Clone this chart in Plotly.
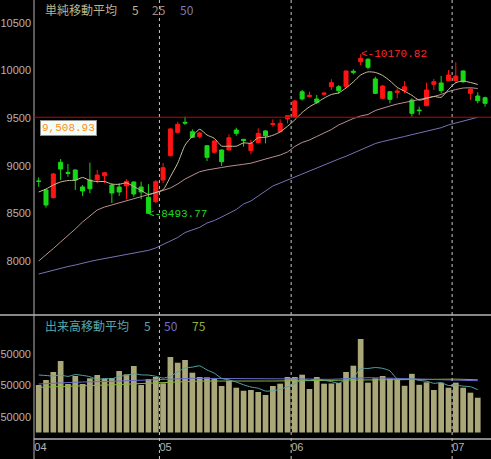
import pandas as pd
import plotly.graph_objects as go

# ---------------- data ----------------
dates = [
    "2009-04-07", "2009-04-08", "2009-04-09", "2009-04-10", "2009-04-13", "2009-04-14",
    "2009-04-15", "2009-04-16", "2009-04-17", "2009-04-20", "2009-04-21", "2009-04-22",
    "2009-04-23", "2009-04-24", "2009-04-27", "2009-04-28", "2009-04-30",
    "2009-05-01", "2009-05-07", "2009-05-08", "2009-05-11", "2009-05-12", "2009-05-13",
    "2009-05-14", "2009-05-15", "2009-05-18", "2009-05-19", "2009-05-20", "2009-05-21",
    "2009-05-22", "2009-05-25", "2009-05-26", "2009-05-27", "2009-05-28", "2009-05-29",
    "2009-06-01", "2009-06-02", "2009-06-03", "2009-06-04", "2009-06-05", "2009-06-08",
    "2009-06-09", "2009-06-10", "2009-06-11", "2009-06-12", "2009-06-15", "2009-06-16",
    "2009-06-17", "2009-06-18", "2009-06-19", "2009-06-22", "2009-06-23", "2009-06-24",
    "2009-06-25", "2009-06-26", "2009-06-29", "2009-06-30",
    "2009-07-01", "2009-07-02", "2009-07-03", "2009-07-06", "2009-07-07",
]

opens = [8840, 8745, 8664, 9036, 8930, 8955, 8777, 8850, 8850, 8895, 8797, 8776, 8787, 8829,
         8776, 8668, 8622,
         8850, 9105, 9351, 9456, 9357, 9305, 9210, 9141, 9165, 9165, 9375, 9277, 9158, 9242,
         9365, 9432, 9357, 9491,
         9512, 9777, 9725, 9701, 9750, 9830, 9830, 9830, 9992, 10092, 10118, 9911, 9708, 9777,
         9770, 9788, 9690, 9585, 9630, 9855, 9869, 9893,
         9893, 9995, 9760, 9732, 9714]
highs = [8878, 8755, 8923, 9070, 9018, 8960, 8797, 9032, 8955, 8934, 8813, 8815, 8857, 8832,
         8832, 8805, 8850,
         9028, 9396, 9462, 9515, 9382, 9357, 9215, 9270, 9170, 9330, 9399, 9280, 9270, 9393,
         9375, 9487, 9487, 9528,
         9690, 9795, 9777, 9743, 9777, 9908, 9848, 10000, 10013, 10170.82, 10128, 9935, 9848,
         9785, 9813, 9890, 9708, 9620, 9872, 9911, 9942, 10005,
         10086, 10000, 9813, 9771, 9725]
lows = [8779, 8559, 8656, 8850, 8884, 8745, 8682, 8710, 8815, 8818, 8608, 8682, 8647, 8674,
        8647, 8493.77, 8608,
        8818, 9097, 9340, 9428, 9291, 9288, 9049, 9130, 8997, 9160, 9315, 9200, 9120, 9235,
        9235, 9410, 9350, 9445,
        9501, 9685, 9722, 9648, 9735, 9795, 9753, 9813, 9960, 10058, 10013, 9753, 9700, 9655,
        9708, 9760, 9515, 9533, 9625, 9795, 9760, 9888,
        9866, 9870, 9690, 9655, 9620]
closes = [8835, 8587, 8913, 8965, 8920, 8850, 8734, 8758, 8902, 8926, 8713, 8724, 8836, 8703,
          8724, 8500, 8832,
          8979, 9386, 9435, 9448, 9298, 9344, 9088, 9259, 9042, 9294, 9340, 9265, 9235, 9340,
          9315, 9442, 9445, 9525,
          9680, 9701, 9740, 9666, 9762, 9872, 9788, 9995, 9982, 10128, 10034, 9760, 9837, 9697,
          9785, 9830, 9550, 9578, 9795, 9882, 9788, 9953,
          9942, 9882, 9806, 9683, 9655]

volumes = [151500, 167500, 193000, 228100, 154700, 180200, 154700, 172900, 183400, 170700,
           173800, 196200, 185600, 212100, 151500, 170700, 177000,
           156900, 240800, 222600, 231300, 190800, 177000, 176100, 171600, 148300, 165200,
           142900, 133300, 135600, 129200, 119600, 148300, 155700, 177000,
           177000, 184400, 138800, 177000, 155700, 156300, 157900, 193000, 213100, 298200,
           158900, 172900, 180200, 172200, 169700, 149000, 187200, 152200, 160100, 135600,
           158900, 142900,
           158900, 142900, 127000, 111000, None]

# moving-average values read where the window reaches before the chart
ma5_head = [8724, 8755, 8797, 8829]
ma25 = [7999, 8062, 8130, 8199, 8262, 8335, 8409, 8472, 8535, 8566,
        8587, 8613, 8634, 8658, 8677, 8698, 8713, 8740, 8766, 8808,
        8860, 8902, 8937, 8955, 8971, 8981, 8994, 9002, 9015, 9026,
        9044, 9070, 9091, 9112, 9144, 9202, 9244, 9270, 9307, 9344,
        9380, 9428, 9464, 9496, 9522, 9538, 9580, 9606, 9627, 9648,
        9664, 9674, 9690, 9711, 9727, 9748, 9779, 9800, 9816, 9819, 9811, None]
ma50 = [7862, 7883, 7899, 7920, 7941, 7957, 7978, 7994, 8010, 8025,
        8041, 8055, 8067, 8081, 8097, 8111, 8136, 8172, 8204, 8246,
        8298, 8325, 8353, 8398, 8424, 8461, 8498, 8540, 8598, 8629,
        8682, 8734, 8787, 8818, 8850, 8881, 8913, 8950, 8981, 9013,
        9042, 9070, 9099, 9133, 9165, 9202, 9233, 9254, 9270, 9288,
        9307, 9326, 9344, 9361, 9380, 9399, 9428, 9449, 9470, 9491, 9508.93, None]

vol_ma5_head = [183400, 181800, 180200, 183400]
vol_ma50 = [154700, 156300, 157900, 158900, 159500,
            160400, 161100, 161100, 162000, 162700,
            163300, 164300, 164900, 165900, 166500, 167100, 167500,
            168700, 169700, 170700, 171900, 172900, 172900, 172900,
            172900, 172900, 172900, 172900, 172900, 172900, 172900, 172900, 172900, 172900, 172900,
            172200, 171300, 170700, 169700, 169100, 169700, 170700, 172200, 173800,
            174800, 174800, 174500, 173800, 173800, 173200, 172900, 172200, 171600, 171000,
            170700, 170000, 169700,
            168700, 167500, 166500, 165200, None]
vol_ma75 = [144200, 144800, 145100, 145800, 146400, 147000, 147700, 148300, 149300, 150200,
            151500, 152800, 154100, 155300, 156600, 157900, 159200,
            160100, 161100, 162000, 162700, 163300, 164000, 164300,
            164300, 164300, 164300, 164300, 164300, 164300, 164300, 164300, 164300, 164300, 164300,
            164600, 165000, 165300, 165600, 166000, 166300, 166600, 167000, 167300, 167600,
            168000, 168300, 168700, 169000, 169400, 169700, 170000, 170300, 170700, 170700,
            170700, 170700,
            170300, 169700, 169000, 168000, None]

price_ticks = [8000, 8500, 9000, 9500, 10000, 10500]
volume_ticks = [50000, 150000, 250000]
ref_level = 9508.93
high_mark = 10170.82
low_mark = 8493.77

price_legend = ["単純移動平均", "5", "25", "50"]
volume_legend = ["出来高移動平均", "5", "50", "75"]

# ---------------- derived series ----------------
n = len(dates)
x = list(range(n))


def moving_average(values, head, window=5):
    s = pd.Series([float("nan") if v is None else v for v in values]).rolling(window).mean()
    out = [None if pd.isna(v) else round(float(v), 2) for v in s]
    for i, h in enumerate(head):
        out[i] = h
    return out


ma5 = moving_average(closes, ma5_head)
ma5[-1] = None  # the averages stop at the previous session in the reference
vol_ma5 = moving_average(volumes, vol_ma5_head)

# ---------------- layout constants ----------------
W, H = 491, 459
ML, MB = 34, 20
plot_w = W - ML
plot_h = H - MB
split_px = 315
split = (plot_h - split_px) / plot_h
x_range = [-0.64, 61.81]
bottom_ext = -MB / plot_h

C_MA5 = "#c8c098"
C_MA25 = "#b89090"
C_MA50 = "#7474b4"
C_VMA5 = "#58a4a4"
C_VMA50 = "#6a6ad0"
C_VMA75 = "#86b43a"
C_UP = "#ff1414"
C_DOWN = "#18d818"
C_AX = "#b4b4b4"

fig = go.Figure()

fig.add_trace(go.Candlestick(
    x=x, open=opens, high=highs, low=lows, close=closes,
    increasing=dict(line=dict(color=C_UP, width=1), fillcolor=C_UP),
    decreasing=dict(line=dict(color=C_DOWN, width=1), fillcolor=C_DOWN),
    whiskerwidth=0, xaxis="x", yaxis="y", showlegend=False, hoverinfo="skip",
))
for vals, col, shape in [(ma50, C_MA50, "linear"), (ma25, C_MA25, "linear"), (ma5, C_MA5, "spline")]:
    fig.add_trace(go.Scatter(x=x, y=vals, mode="lines",
                             line=dict(color=col, width=1, shape=shape, smoothing=0.6),
                             xaxis="x", yaxis="y", showlegend=False, hoverinfo="skip"))

fig.add_trace(go.Bar(x=x, y=volumes, marker=dict(color="#aaa878", line=dict(width=0)),
                     xaxis="x2", yaxis="y2", showlegend=False, hoverinfo="skip"))
for vals, col, shape in [(vol_ma75, C_VMA75, "linear"), (vol_ma50, C_VMA50, "linear"),
                         (vol_ma5, C_VMA5, "spline")]:
    fig.add_trace(go.Scatter(x=x, y=vals, mode="lines",
                             line=dict(color=col, width=1, shape=shape, smoothing=0.6),
                             xaxis="x2", yaxis="y2", showlegend=False, hoverinfo="skip"))

# month ticks from the dates
months = [d[5:7] for d in dates]
tickvals = [x_range[0] + 0.04]
ticktext = [months[0]]
boundaries = []
for i in range(1, n):
    if months[i] != months[i - 1]:
        boundaries.append(i - 0.5)
        tickvals.append(i - 0.5)
        ticktext.append(months[i])

tick_font = dict(family="Liberation Sans", size=11, color=C_AX)

fig.update_layout(
    width=W, height=H,
    margin=dict(l=ML, r=0, t=0, b=MB, autoexpand=False),
    paper_bgcolor="black", plot_bgcolor="black",
    showlegend=False, boxgap=0.22, bargap=0.22,
    xaxis=dict(domain=[0, 1], range=x_range, anchor="y", showticklabels=False,
               showgrid=False, zeroline=False, rangeslider=dict(visible=False), ticks="",
               automargin=False),
    yaxis=dict(domain=[split, 1], range=[7431.8, 10740.5], anchor="x", tickvals=price_ticks,
               tickformat="d", ticks="", showgrid=False, zeroline=False, tickfont=tick_font,
               ticklabelstandoff=2, automargin=False),
    xaxis2=dict(domain=[0, 1], range=x_range, anchor="y2", matches="x", tickvals=tickvals,
                ticktext=ticktext, ticklabelposition="outside right", ticks="",
                showgrid=False, zeroline=False, tickfont=tick_font, automargin=False,
                ticklabelstandoff=0),
    yaxis2=dict(domain=[0, split], range=[-20700, 374800], anchor="x2", tickvals=volume_ticks,
                tickformat="d", ticks="", showgrid=False, zeroline=False, tickfont=tick_font,
                ticklabelstandoff=2, automargin=False),
)

shapes = []
# left axis line through the whole height
shapes.append(dict(type="line", xref="paper", yref="paper", x0=0, x1=0, y0=bottom_ext, y1=1,
                   line=dict(color=C_AX, width=1)))
# panel separator and bottom line
shapes.append(dict(type="line", xref="paper", yref="paper", x0=-ML / plot_w, x1=1, y0=split,
                   y1=split, line=dict(color=C_AX, width=1.5)))
shapes.append(dict(type="line", xref="paper", yref="paper", x0=0, x1=1, y0=0, y1=0,
                   line=dict(color=C_AX, width=1.5)))
# month separators
for b in boundaries:
    shapes.append(dict(type="line", xref="x", yref="paper", x0=b, x1=b, y0=bottom_ext, y1=1,
                       line=dict(color="#c8c8c8", width=1, dash="3px,3px")))
# reference level line
shapes.append(dict(type="line", xref="paper", yref="y", x0=0, x1=1, y0=ref_level, y1=ref_level,
                   line=dict(color="#c80000", width=1)))
fig.update_layout(shapes=shapes)


def px_x(p):
    return (p - ML) / plot_w


def px_y(p):
    return 1 - p / plot_h


ann = []
cjk = "Noto Sans CJK JP"
for text, left, col in zip(price_legend, [43, 130, 150, 178], ["#bcb48c", "#bcb48c", "#a88484", "#7c7cb0"]):
    ann.append(dict(xref="paper", yref="paper", x=px_x(left), y=px_y(10), xanchor="left",
                    yanchor="middle", text=text, showarrow=False,
                    font=dict(family=cjk, size=12, color=col)))
for text, left, col in zip(volume_legend, [43, 142, 162, 190], ["#5aa6a6", "#5aa6a6", "#7070c8", "#8cb43c"]):
    ann.append(dict(xref="paper", yref="paper", x=px_x(left), y=px_y(325.5), xanchor="left",
                    yanchor="middle", text=text, showarrow=False,
                    font=dict(family=cjk, size=12, color=col)))

hi_i = highs.index(max(highs))
lo_i = lows.index(min(lows))
ann.append(dict(xref="x", yref="y", x=hi_i, y=high_mark, xanchor="left", yanchor="middle",
                text="<-" + f"{high_mark:.2f}", showarrow=False, xshift=-2,
                font=dict(family="Liberation Mono", size=11, color="#ff2828")))
ann.append(dict(xref="x", yref="y", x=lo_i, y=low_mark, xanchor="left", yanchor="middle",
                text="<-" + f"{low_mark:.2f}", showarrow=False, xshift=-2,
                font=dict(family="Liberation Mono", size=11, color="#22d822")))
ann.append(dict(xref="paper", yref="y", x=px_x(40), y=ref_level, xanchor="left", yanchor="top",
                yshift=-3, text=f"{ref_level:,.2f}", showarrow=False,
                bgcolor="#f4fcf8", bordercolor="#909090", borderwidth=1, borderpad=1,
                font=dict(family="Liberation Mono", size=11, color="#ff8c1a")))
fig.update_layout(annotations=ann)

fig.write_html("out.html", config={"displayModeBar": False},
               post_script="document.body.style.margin='0';document.body.style.background='black';")
